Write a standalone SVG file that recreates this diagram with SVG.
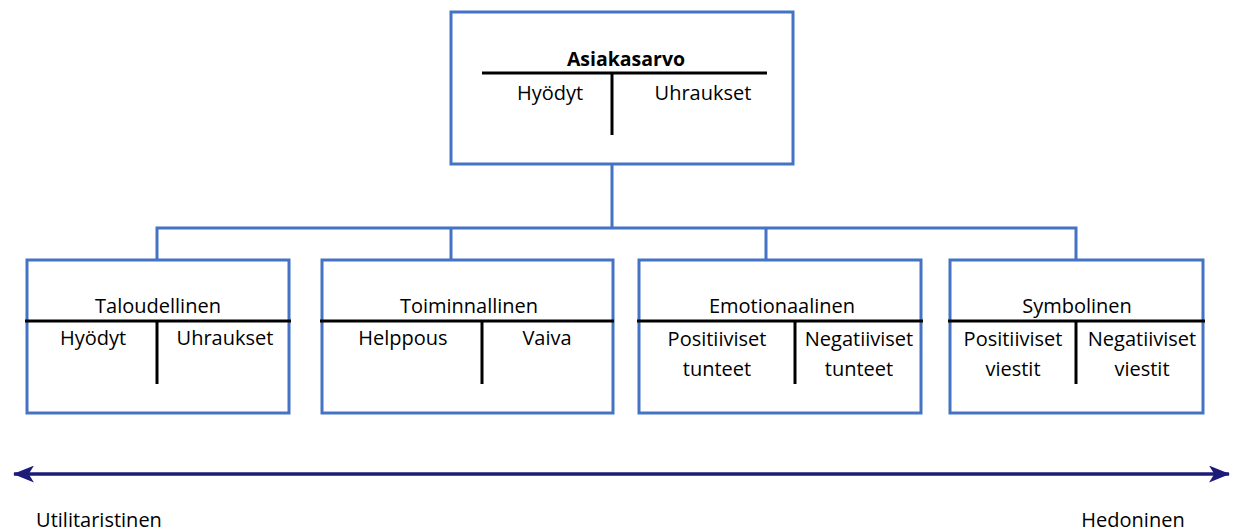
<svg xmlns="http://www.w3.org/2000/svg" width="1240" height="531" viewBox="0 0 1240 531">
<style>
.box{fill:#fff;stroke:#4472C4;stroke-width:3}
.conn{fill:none;stroke:#4472C4;stroke-width:3}
.t{stroke:#000;stroke-width:3}
text{font-family:"Open Sans","Liberation Sans",sans-serif;font-size:20px;fill:#000;text-anchor:middle}
.b{font-weight:bold;font-size:19.5px}
.axis{stroke:#1c1c78;stroke-width:3.5}
</style>
<defs>
<marker id="ah" viewBox="0 0 20 16" refX="19" refY="8" markerWidth="21" markerHeight="17" markerUnits="userSpaceOnUse" orient="auto-start-reverse">
<path d="M0,0 L20,8 L0,16 L5,8 Z" fill="#1c1c78"/>
</marker>
</defs>
<g id="connectors">
<path class="conn" d="M612,165 V228 M157,260 V228 H1076 V260 M451,228 V260 M766,228 V260"/>
</g>
<g id="asiakasarvo">
<rect class="box" x="451" y="12" width="342" height="152"/>
<text class="b" x="626" y="66">Asiakasarvo</text>
<line class="t" x1="482" y1="73" x2="767" y2="73"/>
<line class="t" x1="612" y1="73" x2="612" y2="135"/>
<text x="550" y="100">Hyödyt</text>
<text x="703" y="100">Uhraukset</text>
</g>
<g id="taloudellinen">
<rect class="box" x="27" y="260" width="262" height="153"/>
<text x="158" y="313">Taloudellinen</text>
<line class="t" x1="25" y1="321" x2="291" y2="321"/>
<line class="t" x1="157" y1="321" x2="157" y2="384"/>
<text x="93" y="345">Hyödyt</text>
<text x="225" y="345">Uhraukset</text>
</g>
<g id="toiminnallinen">
<rect class="box" x="322" y="260" width="291" height="153"/>
<text x="469" y="313">Toiminnallinen</text>
<line class="t" x1="320" y1="321" x2="614" y2="321"/>
<line class="t" x1="482" y1="321" x2="482" y2="384"/>
<text x="403" y="345">Helppous</text>
<text x="547" y="345">Vaiva</text>
</g>
<g id="emotionaalinen">
<rect class="box" x="639" y="260" width="282" height="153"/>
<text x="782" y="313">Emotionaalinen</text>
<line class="t" x1="637" y1="321" x2="923" y2="321"/>
<line class="t" x1="795" y1="321" x2="795" y2="384"/>
<text x="717" y="346">Positiiviset</text>
<text x="717" y="376">tunteet</text>
<text x="859" y="346">Negatiiviset</text>
<text x="859" y="376">tunteet</text>
</g>
<g id="symbolinen">
<rect class="box" x="950" y="260" width="253" height="153"/>
<text x="1077" y="313">Symbolinen</text>
<line class="t" x1="948" y1="321" x2="1205" y2="321"/>
<line class="t" x1="1076" y1="321" x2="1076" y2="384"/>
<text x="1013" y="346">Positiiviset</text>
<text x="1013" y="376">viestit</text>
<text x="1142" y="346">Negatiiviset</text>
<text x="1142" y="376">viestit</text>
</g>
<g id="axis">
<line class="axis" x1="14" y1="474" x2="1229" y2="474" marker-start="url(#ah)" marker-end="url(#ah)"/>
<text x="99" y="527">Utilitaristinen</text>
<text x="1133" y="527">Hedoninen</text>
</g>
</svg>
